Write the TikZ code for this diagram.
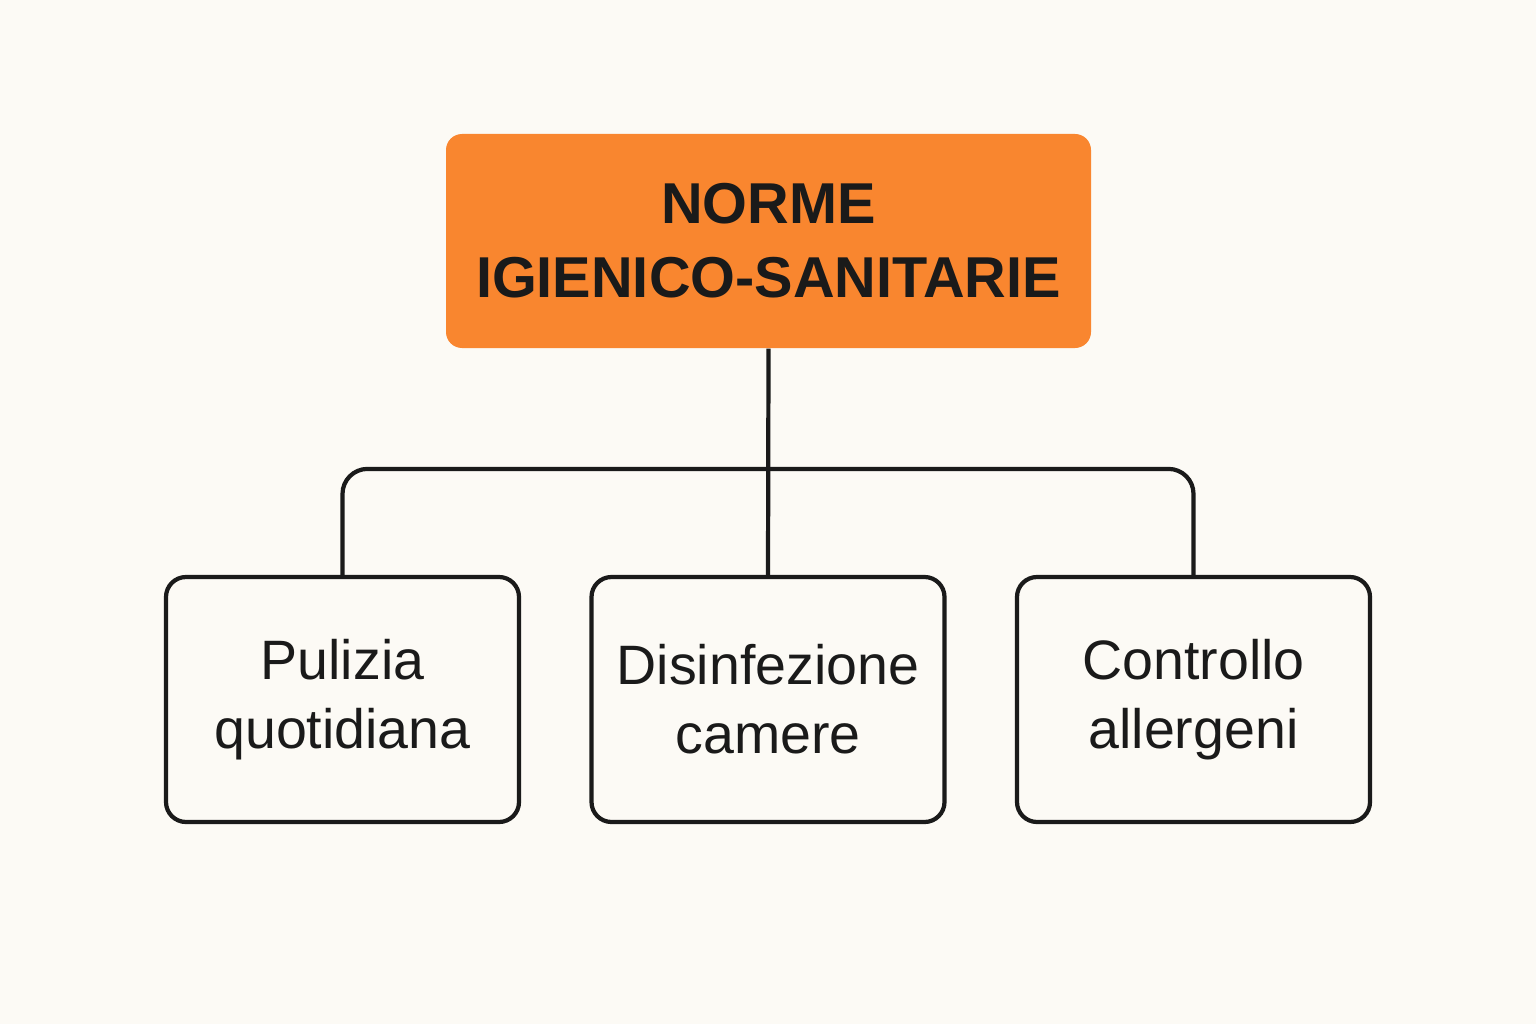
\documentclass[tikz,border=0pt]{standalone}
\usepackage{fontspec}
\setmainfont{Liberation Sans}
\definecolor{bgcream}{HTML}{FCFAF5}
\definecolor{normeorange}{HTML}{F9862F}
\definecolor{inkdark}{HTML}{1A1A1A}
\tikzset{
  titlebox/.style={fill=normeorange, rounded corners=0.16cm, minimum width=6.45cm,
    minimum height=2.14cm, inner sep=0pt, align=center, text=inkdark,
    font=\fontsize{16.4}{21}\selectfont\bfseries},
  normabox/.style={draw=inkdark, line width=1.2pt, fill=bgcream, rounded corners=0.2cm,
    minimum width=3.53cm, minimum height=2.45cm, inner sep=0pt, align=center, text=inkdark,
    font=\fontsize{15.8}{19.6}\selectfont},
  ramo/.style={draw=inkdark, line width=1.2pt}
}
\begin{document}
\begin{tikzpicture}

	\fill [bgcream] (0, 0) rectangle (15.36, 10.24);
	\useasboundingbox (0, 0) rectangle (15.36, 10.24);

	\node [titlebox] (norme) at (7.685, 7.83) {NORME\\IGIENICO-SANITARIE};

	\node [normabox] (pulizia) at (3.425, 3.245) {Pulizia\\quotidiana};
	\node [normabox] (disinf) at (7.68, 3.245) {Disinfezione\\camere};
	\node [normabox] (allerg) at (11.935, 3.245) {Controllo\\allergeni};

	\draw [ramo] (norme.south) -- (disinf.north);
	\draw [ramo, rounded corners=0.25cm] (pulizia.north) -- ++(0, 1.06) -| (allerg.north);

\end{tikzpicture}
\end{document}
